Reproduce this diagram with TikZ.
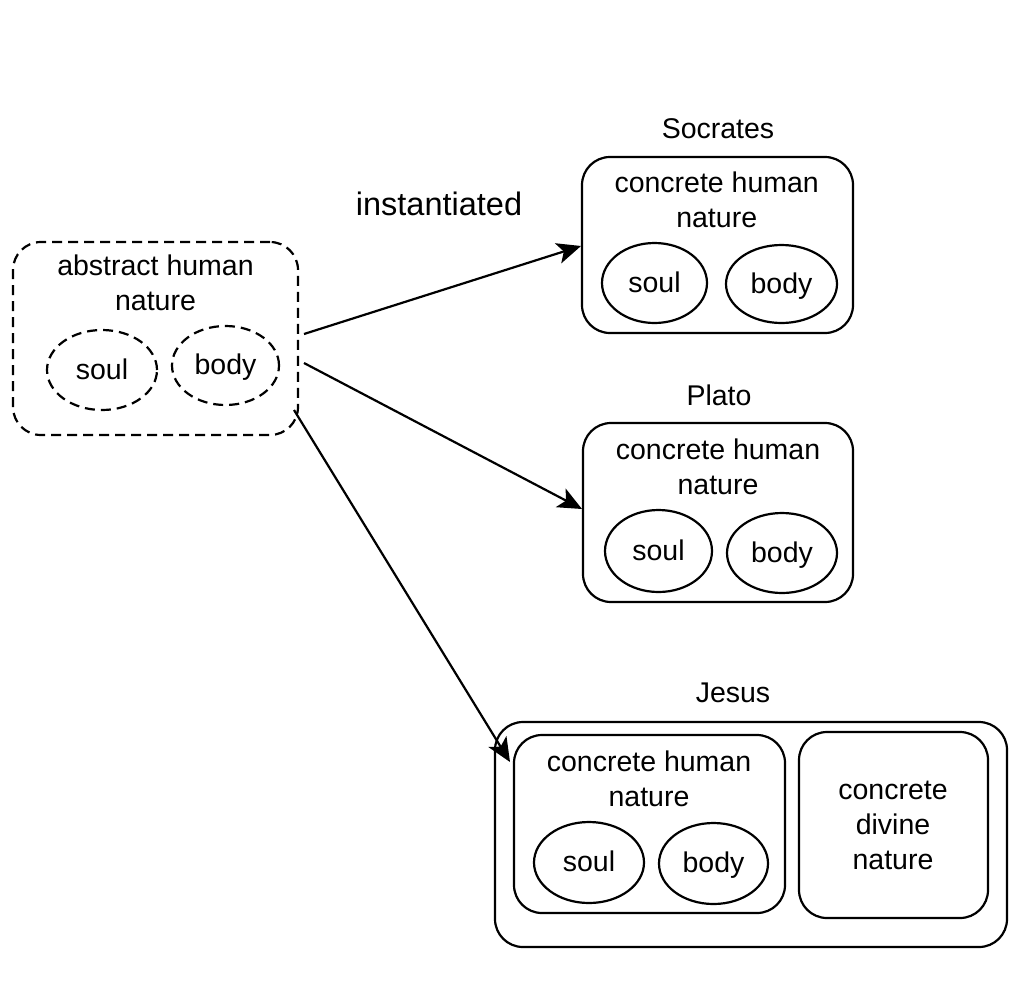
\documentclass[tikz,border=0pt]{standalone}
\usepackage{fontspec}
\setmainfont{Liberation Sans}
\usetikzlibrary{shapes.geometric,arrows.meta}
\begin{document}
\begin{tikzpicture}[x=1pt,y=-1pt,
  lbl/.style={font=\fontsize{28.5}{35}\selectfont, inner sep=0pt, outer sep=0pt, align=center},
  box/.style={draw, line width=2.2pt, rounded corners=28pt, inner sep=0pt, outer sep=0pt, rectangle},
  part/.style={draw, line width=2.2pt, ellipse, inner sep=0pt, outer sep=0pt, font=\fontsize{28.5}{35}\selectfont, text height=18pt, text depth=0pt},
  dsh/.style={dash pattern=on 10pt off 6pt},
  arr/.style={line width=2.2pt, -{Stealth[length=24pt,width=21pt,inset=6pt]}}
]
\useasboundingbox (0,0) rectangle (1024,996);

% abstract
\node[box,dsh,minimum width=285pt,minimum height=193pt] (abs) at (155.5,338.5) {};
\node[lbl] (absT) at (155.5,282.8) {abstract human\\nature};
\node[part,dsh,minimum width=110pt,minimum height=80pt] (absSoul) at (102,370) {soul};
\node[part,dsh,minimum width=107pt,minimum height=79pt] (absBody) at (225.5,365.5) {body};

% instantiated
\node[font=\fontsize{32.5}{39}\selectfont, anchor=base, inner sep=0pt] (inst) at (439,215) {instantiated};

% Socrates
\node[lbl,anchor=base] (socL) at (718,138) {Socrates};
\node[box,minimum width=271pt,minimum height=176pt] (soc) at (717.5,245) {};
\node[lbl] (socT) at (716.7,200.3) {concrete human\\nature};
\node[part,minimum width=105pt,minimum height=80pt] (socSoul) at (654.5,283) {soul};
\node[part,minimum width=111pt,minimum height=78pt] (socBody) at (781.5,284) {body};

% Plato
\node[lbl,anchor=base] (plaL) at (719,405) {Plato};
\node[box,minimum width=270pt,minimum height=179pt] (pla) at (718,512.5) {};
\node[lbl] (plaT) at (718,466.8) {concrete human\\nature};
\node[part,minimum width=107pt,minimum height=82pt] (plaSoul) at (658.5,551) {soul};
\node[part,minimum width=110pt,minimum height=80pt] (plaBody) at (782,553) {body};

% Jesus
\node[lbl,anchor=base] (jesL) at (733,702) {Jesus};
\node[box,minimum width=512pt,minimum height=225pt] (jes) at (751,834.5) {};
\node[box,minimum width=271pt,minimum height=178pt] (jesH) at (649.5,824) {};
\node[lbl] (jesT) at (649,778.8) {concrete human\\nature};
\node[part,minimum width=110pt,minimum height=81pt] (jesSoul) at (589,862.5) {soul};
\node[part,minimum width=109pt,minimum height=81pt] (jesBody) at (713.5,863.5) {body};
\node[box,minimum width=189pt,minimum height=186pt] (jesD) at (893.5,825) {};
\node[lbl] (divT) at (893,825.2) {concrete\\divine\\nature};

% arrows
\draw[arr] ([shift={(6,-4.5)}]abs.east) -- ([shift={(-1,1)}]soc.west);
\draw[arr] ([shift={(6,24.5)}]abs.east) -- ([shift={(-1,-3.5)}]pla.west);
\draw[arr] ([shift={(-4,-25)}]abs.south east) -- ([shift={(15,-72.5)}]jes.west);
\end{tikzpicture}
\end{document}
